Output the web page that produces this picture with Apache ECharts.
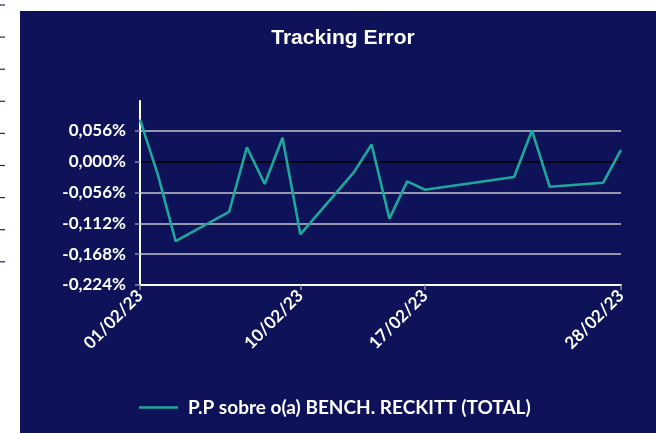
<!DOCTYPE html>
<html>
<head>
<meta charset="utf-8">
<script src="https://cdn.jsdelivr.net/npm/echarts@6/dist/echarts.min.js"></script>
<style>
  html, body { margin: 0; padding: 0; background: #ffffff; }
  #panel { position: absolute; left: 20px; top: 11px; width: 636px; height: 422px; background: #0e1258; }
  #chart { position: absolute; left: 0; top: 0; width: 656px; height: 433px; }
</style>
</head>
<body>
<div id="panel"></div>
<div id="chart"></div>
<script>
// Trading days in February 2023 and the daily tracking error (in %)
const tradeDates = ['01/02/23','02/02/23','03/02/23','06/02/23','07/02/23','08/02/23','09/02/23','10/02/23',
  '13/02/23','14/02/23','15/02/23','16/02/23','17/02/23','22/02/23','23/02/23','24/02/23','27/02/23','28/02/23'];
const trackingError = [0.0761, -0.0237, -0.1443, -0.0913, 0.0261, -0.0407, 0.0433, -0.1320,
  -0.0195, 0.0310, -0.1035, -0.0360, -0.0511, -0.0279, 0.0566, -0.0457, -0.0383, 0.0214];
const labelDates = ['01/02/23', '10/02/23', '17/02/23', '28/02/23'];
const yTicks = [-0.224, -0.168, -0.112, -0.056, 0, 0.056];
const seriesName = 'P.P sobre o(a) BENCH. RECKITT (TOTAL)';

// Full calendar of the month so weekends and holidays keep their width on the axis
const calendar = [];
for (let d = 1; d <= 28; d++) calendar.push(String(d).padStart(2, '0') + '/02/23');
const valueByDate = {};
tradeDates.forEach((d, i) => { valueByDate[d] = trackingError[i]; });
const lineData = calendar.map(d => (d in valueByDate ? valueByDate[d] : null));

const labelFont = 'Lato, "Open Sans", sans-serif';
const gridColors = yTicks.map(v => (v === 0 ? '#000000' : '#c4c4cc'));
gridColors.push('rgba(0,0,0,0)');

const chart = echarts.init(document.getElementById('chart'), null, { renderer: 'canvas' });
chart.setOption({
  backgroundColor: 'transparent',
  animation: false,
  title: {
    text: 'Tracking Error',
    left: 338, textAlign: 'center', top: 23,
    textStyle: { color: '#ffffff', fontSize: 21, fontWeight: 'bold', fontFamily: '"Liberation Sans", Arial, sans-serif' }
  },
  graphic: [0, 1, 2, 3, 4, 5, 6, 7, 8].map(i => ({
    type: 'line', shape: { x1: 0, y1: 5 + i * 32.1, x2: 5, y2: 5 + i * 32.1 },
    style: { stroke: '#1c2366', lineWidth: 1.2 }, silent: true
  })),
  legend: {
    left: 134, top: 393,
    itemWidth: 39, itemHeight: 14, icon: 'path://M0,6 L40,6 L40,8.6 L0,8.6 Z',
    textStyle: { color: '#ffffff', fontSize: 19, fontWeight: 'bold', fontFamily: labelFont, padding: [0, 0, 0, 5] },
    data: [seriesName]
  },
  grid: { left: 140, right: 35, top: 101, bottom: 148, containLabel: false },
  xAxis: {
    type: 'category',
    data: calendar,
    boundaryGap: false,
    axisLine: { show: true, onZero: false, lineStyle: { color: '#ffffff', width: 2 } },
    axisTick: { show: true, length: 5, lineStyle: { color: '#8a8a95', width: 1.5 },
      interval: (idx, val) => labelDates.includes(val) },
    axisLabel: {
      rotate: 45, margin: 8, color: '#ffffff', fontSize: 17, fontWeight: 'bold', fontFamily: labelFont,
      interval: (idx, val) => labelDates.includes(val)
    },
    splitLine: { show: false }
  },
  yAxis: {
    type: 'value',
    min: -0.224, max: 0.11, interval: 0.056,
    axisLine: { show: true, lineStyle: { color: '#ffffff', width: 2 } },
    axisTick: { show: true, length: 5, lineStyle: { color: '#8a8a95', width: 1.5 } },
    axisLabel: {
      margin: 14, color: '#ffffff', fontSize: 17, fontWeight: 'bold', fontFamily: labelFont,
      showMaxLabel: false,
      formatter: v => {
        const r = Math.round(v * 1000) / 1000;
        return r.toFixed(3).replace('.', ',') + '%';
      }
    },
    splitLine: { show: true, lineStyle: { color: gridColors, width: 1.5 } }
  },
  series: [{
    name: seriesName,
    type: 'line',
    data: lineData,
    connectNulls: true,
    symbol: 'none',
    lineStyle: { color: '#1ea89c', width: 2.6 },
    itemStyle: { color: '#1ea89c' },
    z: 3
  }]
});
</script>
</body>
</html>
